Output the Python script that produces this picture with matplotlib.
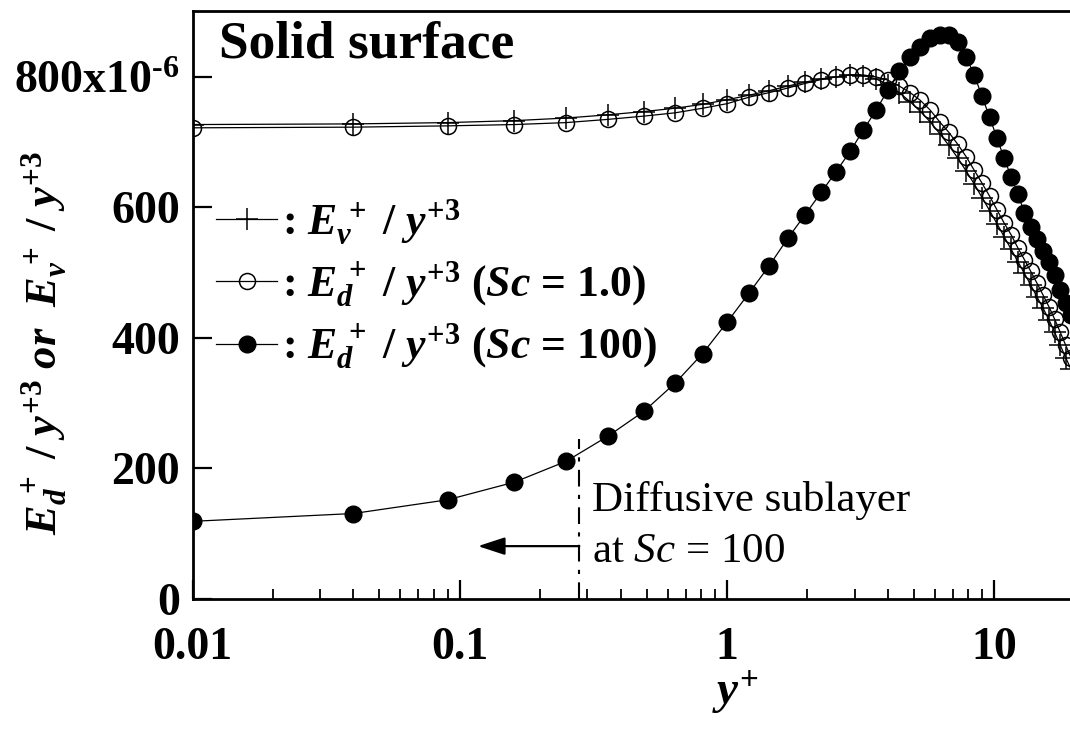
import matplotlib
matplotlib.use("Agg")
import matplotlib.pyplot as plt
from matplotlib.lines import Line2D

# ---------------- data (values in units of 1e-6) ----------------
y_plus = [0.01, 0.04, 0.09, 0.16, 0.25, 0.36, 0.49, 0.64, 0.81, 1.00,
          1.21, 1.44, 1.69, 1.96, 2.25, 2.56, 2.89, 3.24, 3.61, 4.00,
          4.41, 4.84, 5.29, 5.76, 6.25, 6.76, 7.29, 7.84, 8.41, 9.00,
          9.61, 10.24, 10.89, 11.56, 12.25, 12.96, 13.69, 14.44, 15.21, 16.00,
          16.81, 17.64, 18.49, 19.36]

ev = [727, 728, 730, 733, 737, 742, 747, 752, 758, 765,
      772, 779, 786, 792, 797, 800, 803, 802, 797, 788,
      776, 762, 747, 731, 713, 695, 676, 656, 636, 615,
      595, 575, 555, 536, 517, 499, 481, 463, 446, 428,
      409, 389, 370, 352]

ed_sc1 = [722, 723, 725, 727, 730, 735, 740, 745, 752, 759,
          769, 776, 783, 790, 796, 800, 803, 803, 800, 795,
          786, 776, 764, 749, 731, 715, 697, 678, 657, 637,
          617, 596, 576, 558, 538, 520, 502, 484, 466, 448,
          429, 409, 389, 370]

ed_sc100 = [119, 131, 152, 179, 211, 250, 288, 331, 376, 424,
            469, 511, 553, 589, 623, 655, 686, 719, 749, 780,
            809, 830, 846, 859, 864, 864, 854, 831, 803, 770,
            738, 706, 675, 647, 621, 592, 570, 551, 533, 517,
            497, 474, 454, 435]

ytick_vals = [0, 200, 400, 600, 800]
ytick_labels = ['0', '200', '400', '600', '800x10$^{\\mathrm{\u2010}6}$']
xtick_vals = [0.01, 0.1, 1, 10]
xtick_labels = ['0.01', '0.1', '1', '10']

sublayer_x = 0.28
arrow_tip_x = 0.117
arrow_y = 81
scale = 1e-6

# ---------------- style ----------------
plt.rcParams['font.family'] = ['Liberation Serif', 'DejaVu Serif']
plt.rcParams['font.weight'] = 'normal'
plt.rcParams['mathtext.fontset'] = 'custom'
plt.rcParams['mathtext.it'] = 'Liberation Serif:style=italic:weight=bold'
plt.rcParams['mathtext.rm'] = 'Liberation Serif:weight=bold'
plt.rcParams['mathtext.bf'] = 'Liberation Serif:weight=bold'
plt.rcParams['mathtext.sf'] = 'Liberation Serif:style=italic:weight=normal'

W, H = 1070, 738
fig = plt.figure(figsize=(W / 100, H / 100), dpi=100)
left_px, right_px, top_px, bot_px = 192.5, 1070, 11, 599
ax = fig.add_axes([left_px / W, 1 - bot_px / H, (right_px - left_px) / W, (bot_px - top_px) / H])

def s(v):
    return [a * scale for a in v]

ax.plot(y_plus, s(ev), color='k', lw=0.9, marker='+', ms=16, mew=1.1, zorder=3)
ax.plot(y_plus, s(ed_sc1), color='k', lw=0.9, marker='o', ms=11.5, mfc='none',
        mec='k', mew=1.1, zorder=3)
ax.plot(y_plus, s(ed_sc100), color='k', lw=0.9, marker='o', ms=12, mfc='k',
        mec='k', zorder=4)

ax.set_xscale('log')
ax.set_xlim(0.01, 10 ** (1 + (1070 - 994.3) / 267.3))
ax.set_ylim(0, 901 * scale)

ax.set_yticks([v * scale for v in ytick_vals])
ax.set_yticklabels(ytick_labels)
ax.set_xticks(xtick_vals)
ax.set_xticklabels(xtick_labels)
ax.yaxis.set_minor_locator(matplotlib.ticker.NullLocator())
ax.tick_params(axis='both', which='major', direction='in', length=14, width=1.6,
               labelsize=33, pad=9)
ax.tick_params(axis='x', which='major', pad=20)
ax.tick_params(axis='x', which='minor', direction='in', length=7, width=1.3)
for lab in ax.get_xticklabels() + ax.get_yticklabels():
    lab.set_fontweight('bold')

ax.spines['right'].set_visible(False)
for sp in ['left', 'top', 'bottom']:
    ax.spines[sp].set_linewidth(2.0)

# sublayer marker and arrow
ax.vlines(sublayer_x, 0, 245 * scale, colors='k', lw=1.5,
          linestyles=[(0, (8, 4, 2, 4))], zorder=2)
ax.annotate('', xy=(arrow_tip_x, arrow_y * scale), xytext=(sublayer_x, arrow_y * scale),
            arrowprops=dict(arrowstyle='-|>,head_length=0.55,head_width=0.18',
                            color='k', lw=1.6, mutation_scale=30,
                            shrinkA=0, shrinkB=0))

# texts
fig.text(219 / W, 1 - 58 / H, 'Solid surface', fontsize=38.5, fontweight='bold',
         va='baseline', ha='left')
fig.text(592 / W, 1 - 511 / H, 'Diffusive sublayer', fontsize=31,
         fontweight='normal', va='baseline', ha='left')
fig.text(592 / W, 1 - 562 / H, 'at $\\mathsf{Sc}$ = 100', fontsize=31,
         fontweight='normal', va='baseline', ha='left')

fig.text(44 / W, 1 - 343 / H,
         '$E_d^{\\,+}$ / $y^{+3}$ $or$  $E_v^{\\,+}$ / $y^{+3}$',
         fontsize=32, fontweight='bold', rotation=90, ha='center', va='center')
fig.text(735 / W, 1 - 692 / H, '$y^{+}$', fontsize=34, ha='center', va='center')

# legend
handles = [
    Line2D([], [], color='k', lw=0.9, marker='+', ms=16, mew=1.1),
    Line2D([], [], color='k', lw=0.9, marker='o', ms=11.5, mfc='none', mew=1.1),
    Line2D([], [], color='k', lw=0.9, marker='o', ms=12, mfc='k'),
]
labels = [
    ': $E_v^{\\,+}$ / $y^{\\mathit{+3}}$',
    ': $E_d^{\\,+}$ / $y^{\\mathit{+3}}$ ($Sc$ = 1.0)',
    ': $E_d^{\\,+}$ / $y^{\\mathit{+3}}$ ($Sc$ = 100)',
]
leg = ax.legend(handles, labels, loc='upper left',
                bbox_to_anchor=(216 / W, 1 - 197 / H),
                bbox_transform=fig.transFigure, frameon=False,
                handlelength=1.4, handletextpad=0.1, labelspacing=0.29,
                borderpad=0, borderaxespad=0,
                prop={'family': 'Liberation Serif', 'weight': 'bold', 'size': 31.5})

fig.savefig('out.png', dpi=100)
